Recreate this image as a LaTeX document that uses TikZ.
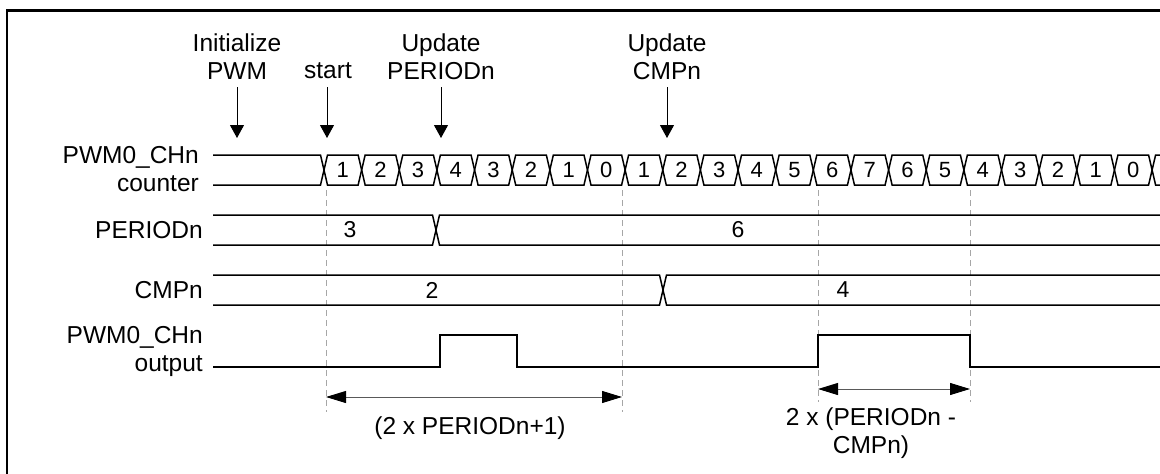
\documentclass[tikz,border=0pt]{standalone}
\usepackage{fontspec}
\setmainfont{Liberation Sans}
\usetikzlibrary{arrows.meta}
\begin{document}
\begin{tikzpicture}[x=1pt,y=-1pt,
  lbl/.style={font=\fontsize{24.5}{28}\selectfont, inner sep=0pt},
  dig/.style={font=\fontsize{22}{24}\selectfont, inner sep=0pt},
  val/.style={font=\fontsize{23}{24}\selectfont, inner sep=0pt},
  sig/.style={line width=1.5pt, line join=miter},
  guide/.style={draw=black!35, line width=1pt, dash pattern=on 6pt off 4pt},
  evt/.style={line width=1pt, -{Triangle[length=13pt,width=14pt]}},
  dim/.style={draw=black!65, line width=1pt,
    {Triangle[length=20pt,width=12pt,color=black]}-{Triangle[length=20pt,width=12pt,color=black]}}
]
\useasboundingbox (0,0) rectangle (1160,474);
\fill[white] (0,0) rectangle (1160,474);
% frame (top and left edges visible)
\draw[line width=2.5pt] (7,480) -- (7,10.5) -- (1170,10.5);

% event labels
\node[lbl, align=center] (lInit) at (237,57) {Initialize\\PWM};
\node[lbl] (lStart) at (328,71) {start};
\node[lbl, align=center] (lUpP) at (441,57) {Update\\PERIODn};
\node[lbl, align=center] (lUpC) at (667,57) {Update\\CMPn};
\coordinate (tInit) at (237,138);
\coordinate (tStart) at (327,138);
\coordinate (tUpP) at (441,138);
\coordinate (tUpC) at (667,138);
\draw[evt] (237,87) -- (tInit);
\draw[evt] (327,87) -- (tStart);
\draw[evt] (441,87) -- (tUpP);
\draw[evt] (667,87) -- (tUpC);

% signal labels
\node[lbl, align=right, anchor=east] (lCnt) at (199,169) {PWM0\_CHn\\counter};
\node[lbl, anchor=east] (lPer) at (203,230) {PERIODn};
\node[lbl, anchor=east] (lCmp) at (203,290) {CMPn};
\node[lbl, align=right, anchor=east] (lOut) at (203,351.5) {PWM0\_CHn\\output};

% guides
\draw[guide] (326,190) -- (326,412);
\draw[guide] (622,190) -- (622,412);
\draw[guide] (818,190) -- (818,402);
\draw[guide] (970,190) -- (970,402);

% counter bus
\draw[sig] (213,155) -- (320.5,155) -- (324,170) -- (320.5,185) -- (213,185);
\foreach \v [count=\k from 0] in {1,2,3,4,3,2,1,0,1,2,3,4,5,6,7,6,5,4,3,2,1,0} {
  \pgfmathsetmacro\a{324+37.64*\k}
  \pgfmathsetmacro\b{324+37.64*(\k+1)}
  \draw[sig] (\a,170) -- (\a+3.5,155) -- (\b-3.5,155) -- (\b,170) -- (\b-3.5,185) -- (\a+3.5,185) -- cycle;
  \node[dig] (cnt\k) at ({(\a+\b)/2},170) {\v};
}
\draw[sig] (1165,155) -- (1155.6,155) -- (1152.1,170) -- (1155.6,185) -- (1165,185);

% PERIODn bus
\draw[sig] (213,215) -- (432.5,215) -- (439.5,245) -- (1165,245);
\draw[sig] (213,245) -- (432.5,245) -- (439.5,215) -- (1165,215);
\node[val] (vPer3) at (350,230) {3};
\node[val] (vPer6) at (738,230) {6};

% CMPn bus
\draw[sig] (213,275) -- (659.5,275) -- (666.5,305) -- (1165,305);
\draw[sig] (213,305) -- (659.5,305) -- (666.5,275) -- (1165,275);
\node[val] (vCmp2) at (432,290) {2};
\node[val] (vCmp4) at (843,290) {4};

% output
\draw[sig] (213,367) -- (440,367) -- (440,335) -- (517,335) -- (517,367)
  -- (818,367) -- (818,335) -- (970,335) -- (970,367) -- (1165,367);

% dimension arrows
\coordinate (d1a) at (326,397);
\coordinate (d1b) at (622,397);
\draw[dim] (d1a) -- (d1b);
\node[lbl] (dl1) at (470,428) {(2 x PERIODn+1)};
\coordinate (d2a) at (818,389);
\coordinate (d2b) at (970,389);
\draw[dim] (d2a) -- (d2b);
\node[lbl, align=center] (dl2) at (871,433.5) {2 x (PERIODn -\\CMPn)};
\end{tikzpicture}
\end{document}
